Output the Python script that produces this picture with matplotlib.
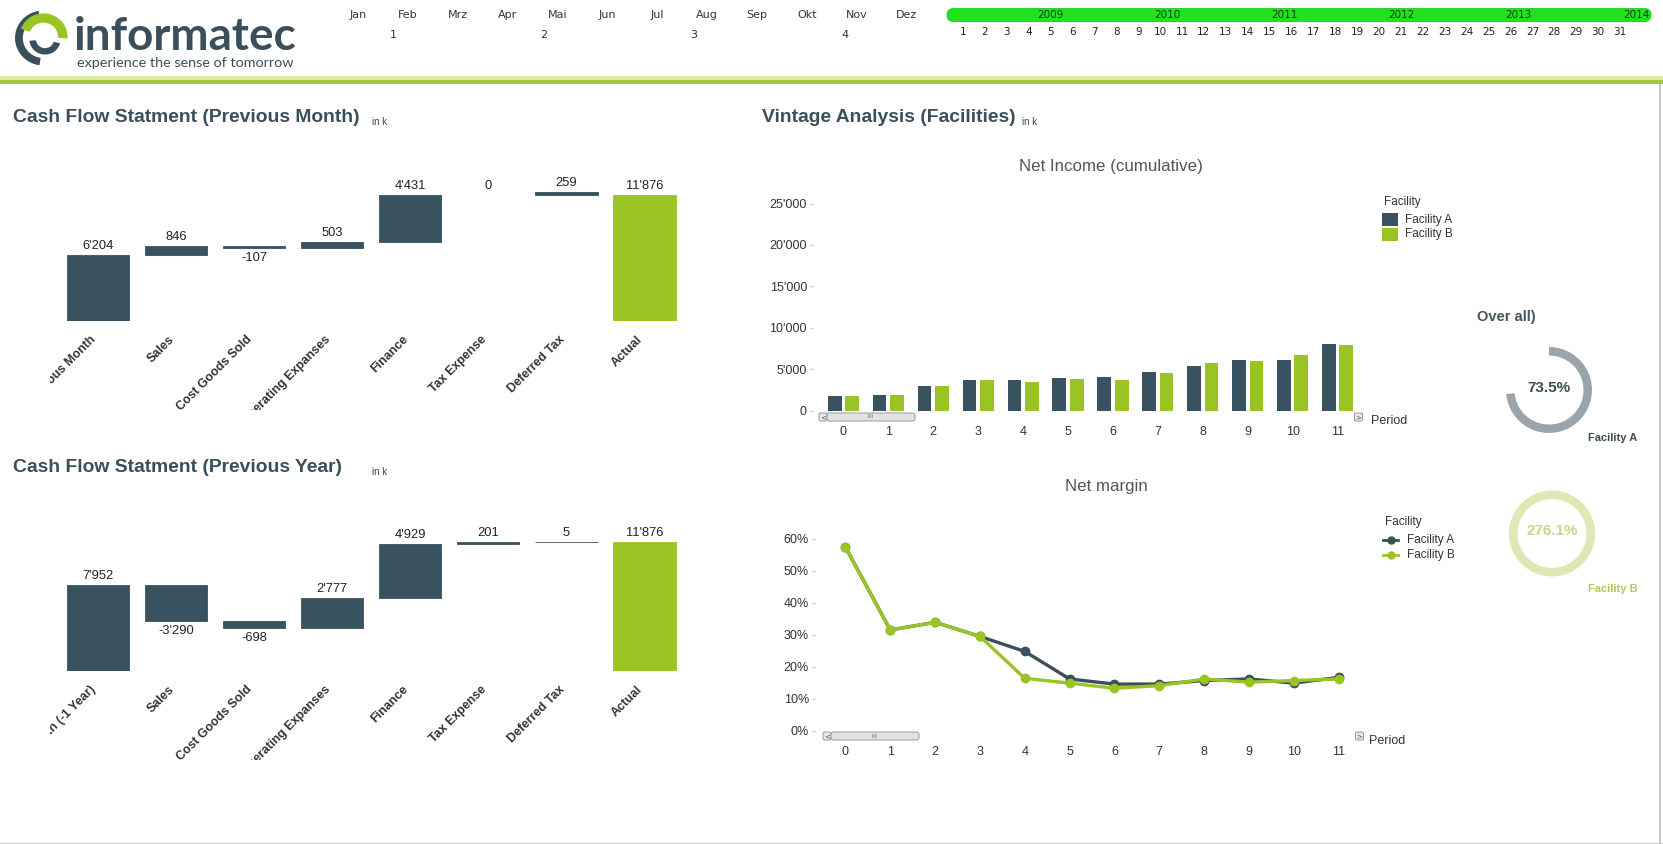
import matplotlib
matplotlib.use('Agg')
import matplotlib.pyplot as plt
import matplotlib.transforms as mtransforms
from matplotlib.patches import Rectangle, Wedge, FancyBboxPatch
from matplotlib.lines import Line2D
import numpy as np

# ---------------- data ----------------
months = ['Jan', 'Feb', 'Mrz', 'Apr', 'Mai', 'Jun', 'Jul', 'Aug', 'Sep', 'Okt', 'Nov', 'Dez']
quarters = ['1', '2', '3', '4']
years = ['2009', '2010', '2011', '2012', '2013', '2014']
days = [str(d) for d in range(1, 32)]

wf_month_categories = ['Previous Month', 'Sales', 'Cost Goods Sold', 'Operating Expanses',
                       'Finance', 'Tax Expense', 'Deferred Tax', 'Actual']
wf_month_values = [6204, 846, -107, 503, 4431, 0, 259, 11876]

wf_year_categories = ['Previous Month (-1 Year)', 'Sales', 'Cost Goods Sold', 'Operating Expanses',
                      'Finance', 'Tax Expense', 'Deferred Tax', 'Actual']
wf_year_values = [7952, -3290, -698, 2777, 4929, 201, 5, 11876]

periods = list(range(12))
facilities = ['Facility A', 'Facility B']
net_income_a = [1700, 1930, 3010, 3730, 3730, 3980, 4100, 4700, 5420, 6140, 6140, 8070]
net_income_b = [1700, 1930, 3010, 3730, 3490, 3860, 3730, 4580, 5780, 6020, 6750, 7950]
net_margin_a = [57.4, 31.5, 33.9, 29.5, 24.8, 16.2, 14.6, 14.6, 15.7, 16.2, 14.9, 16.7]
net_margin_b = [57.4, 31.5, 33.9, 29.5, 16.4, 14.9, 13.3, 14.1, 16.2, 15.2, 15.7, 16.2]
gauge_values = [73.5, 276.1]

# ---------------- style ----------------
W, H = 1663, 844
DARK = '#38535f'
GREEN = '#9ac424'
TITLE = '#3b4f5a'
NARROW = ['Liberation Sans Narrow', 'Liberation Sans', 'DejaVu Sans']
SANS = ['Liberation Sans', 'DejaVu Sans']

fig = plt.figure(figsize=(W / 100, H / 100), dpi=100)
fig.patch.set_facecolor('white')


def ax_px(x0, y0, x1, y1):
    return fig.add_axes([x0 / W, 1 - y1 / H, (x1 - x0) / W, (y1 - y0) / H])


def fmt(v):
    return f"{v:,}".replace(',', "'")


# overlay in pixel coordinates
ov = ax_px(0, 0, W, H)
ov.set_xlim(0, W)
ov.set_ylim(H, 0)
ov.axis('off')

# ---------------- header ----------------
for i, m in enumerate(months):
    ov.text(358 + 49.9 * i, 15, m, ha='center', va='center', fontsize=8,
            family=['DejaVu Sans'], color='#333333')
for i, q in enumerate(quarters):
    ov.text(393 + 150.5 * i, 35, q, ha='center', va='center', fontsize=8,
            family=['DejaVu Sans'], color='#333333')
ov.add_patch(FancyBboxPatch((947, 8.5), 704, 13, boxstyle='round,pad=0,rounding_size=6.5',
                            facecolor='#1fe31f', edgecolor='#15d015', lw=0.6))
for i, y in enumerate(years):
    ov.text(1050 + 117.2 * i, 15.5, y, ha='center', va='center', fontsize=7.5,
            family=['DejaVu Sans'], color='#1a3a1a')
for i, d in enumerate(days):
    ov.text(963 + 21.9 * i, 32, d, ha='center', va='center', fontsize=7.5,
            family=['DejaVu Sans'], color='#222222')

# green separator
ov.add_patch(Rectangle((0, 76), W, 4, facecolor='#dbe9a8', lw=0))
ov.add_patch(Rectangle((0, 80), W, 4, facecolor='#a3c63c', lw=0))
# borders
ov.add_patch(Rectangle((1659, 84), 1.5, H - 84, facecolor='#c8c8c8', lw=0))
ov.add_patch(Rectangle((0, H - 1.5), W, 1.5, facecolor='#c8c8c8', lw=0))

# logo
lg = ax_px(12, 9, 72, 67)
lg.set_xlim(-1, 1)
lg.set_ylim(-1, 1)
lg.axis('off')
lg.add_patch(Wedge((0.05, 0), 0.95, 100, 262, width=0.26, facecolor=TITLE, lw=0))
lg.add_patch(Wedge((0.05, 0.05), 0.8, -5, 160, width=0.32, facecolor=GREEN, lw=0))
lg.add_patch(Wedge((0.1, -0.05), 0.52, 185, 345, width=0.22, facecolor=TITLE, lw=0))
ov.text(74, 50, 'informatec', ha='left', va='baseline', fontsize=33, fontweight='bold',
        family=['Lato', 'DejaVu Sans'], color=TITLE)
ov.text(77, 67, 'experience the sense of tomorrow', ha='left', va='baseline', fontsize=10.4,
        family=['Lato', 'DejaVu Sans'], color=TITLE)

# ---------------- section titles ----------------
for (x, y, s, xk) in [(13, 118, 'Cash Flow Statment (Previous Month)', 372),
                      (13, 468, 'Cash Flow Statment (Previous Year)', 372),
                      (762, 118, 'Vintage Analysis (Facilities)', 1022)]:
    ov.text(x, y, s, ha='left', va='center', fontsize=13.9, fontweight='bold', family=SANS, color=TITLE)
    ov.text(xk, y + 4, 'in k', ha='left', va='center', fontsize=7, family=NARROW, color='#444444')


# ---------------- waterfalls ----------------
def waterfall(box, cats, vals, clip_left, clip_bottom):
    ax = ax_px(*box)
    n = len(cats)
    x = np.arange(n)
    bottoms = []
    cum = 0
    for i, v in enumerate(vals):
        if i == n - 1:
            bottoms.append(0)
        else:
            bottoms.append(cum)
            cum += v
    colors = [DARK] * (n - 1) + [GREEN]
    lws = [0.6 if v != 0 else 0 for v in vals]
    ax.bar(x, vals, bottom=bottoms, width=0.8, color=colors, edgecolor=colors, linewidth=lws)
    for i, (v, b) in enumerate(zip(vals, bottoms)):
        if v >= 0:
            ax.annotate(fmt(v), (i, b + v), xytext=(0, 3), textcoords='offset pixels', ha='center',
                        va='bottom', fontsize=9.3, family=NARROW, color='#222222')
        else:
            ax.annotate(fmt(v), (i, b + v), xytext=(0, -4), textcoords='offset pixels', ha='center',
                        va='top', fontsize=9.3, family=NARROW, color='#222222')
    ax.set_xlim(-0.5, n - 0.5)
    ax.set_ylim(0, 14000)
    ax.axis('off')
    tr = mtransforms.offset_copy(ax.get_xaxis_transform(), fig=fig, x=-8, y=-12, units='dots')
    clip = mtransforms.TransformedBbox(
        mtransforms.Bbox.from_extents(clip_left / W, 1 - clip_bottom / H, 1, 1), fig.transFigure)
    for i, c in enumerate(cats):
        t = fig.text(i, 0, c, transform=tr, rotation=45, rotation_mode='anchor', ha='right', va='top',
                     fontsize=8.9, fontweight='bold', family=SANS, color='#333333')
        t.set_clip_on(True)
        t.set_clip_box(clip)
    return ax


waterfall((58.9, 172.6, 683.4, 321.4), wf_month_categories, wf_month_values, 50, 410)
waterfall((58.9, 518.8, 683.4, 671.4), wf_year_categories, wf_year_values, 50, 760)


# ---------------- right charts ----------------
def style_axis(ax):
    for s in ax.spines.values():
        s.set_visible(False)
    ax.tick_params(axis='y', length=2, width=1, color='#cccccc', pad=2, labelsize=9, labelcolor='#333333')
    ax.tick_params(axis='x', length=0, pad=11, labelsize=9, labelcolor='#333333')
    for lab in ax.get_xticklabels() + ax.get_yticklabels():
        lab.set_family(NARROW)
    ax.set_facecolor('none')


def scrollbar(x_left, y_top, x_right_btn):
    h = 8
    ov.add_patch(FancyBboxPatch((x_left, y_top), 8, h, boxstyle='round,pad=0,rounding_size=1.5',
                                facecolor='#e8e8e8', edgecolor='#9a9a9a', lw=0.7))
    ov.text(x_left + 4, y_top + h / 2, '<', ha='center', va='center', fontsize=5, color='#555555')
    ov.add_patch(FancyBboxPatch((x_left + 8, y_top), 88, h, boxstyle='round,pad=0,rounding_size=2.5',
                                facecolor='#e2e2e2', edgecolor='#9a9a9a', lw=0.7))
    ov.text(x_left + 8 + 44, y_top + h / 2, 'IIII', ha='center', va='center', fontsize=4, color='#777777')
    ov.add_patch(FancyBboxPatch((x_right_btn, y_top), 8, h, boxstyle='round,pad=0,rounding_size=1.5',
                                facecolor='#e8e8e8', edgecolor='#9a9a9a', lw=0.7))
    ov.text(x_right_btn + 4, y_top + h / 2, '>', ha='center', va='center', fontsize=5, color='#555555')


# Net income bars
ax1 = ax_px(812.5, 203.6, 1358.6, 410.5)
xp = np.arange(len(periods))
ax1.bar(xp - 0.19, net_income_a, width=0.31, color=DARK, linewidth=0)
ax1.bar(xp + 0.19, net_income_b, width=0.31, color=GREEN, linewidth=0)
ax1.set_xlim(-0.68, 11.46)
ax1.set_ylim(0, 25000)
ax1.set_yticks(range(0, 25001, 5000))
ax1.set_yticklabels([fmt(v) for v in range(0, 25001, 5000)])
ax1.set_xticks(xp)
ax1.set_xticklabels([str(p) for p in periods])
style_axis(ax1)
ov.text(1111, 166.5, 'Net Income (cumulative)', ha='center', va='center', fontsize=12.2,
        family=SANS, color='#555555')
ov.text(1371, 421, 'Period', ha='left', va='center', fontsize=9, family=SANS, color='#333333')
scrollbar(819, 413, 1354.5)

# bar legend
ov.text(1384, 201.5, 'Facility', ha='left', va='center', fontsize=8.5, family=SANS, color='#333333')
ov.add_patch(Rectangle((1382, 212.5), 16, 13.5, facecolor=DARK, lw=0))
ov.add_patch(Rectangle((1382, 227.5), 16, 13.5, facecolor=GREEN, lw=0))
ov.text(1405, 219.5, facilities[0], ha='left', va='center', fontsize=8.5, family=SANS, color='#333333')
ov.text(1405, 234.4, facilities[1], ha='left', va='center', fontsize=8.5, family=SANS, color='#333333')

# Net margin lines
ax2 = ax_px(814.5, 538.8, 1359.7, 730.8)
ax2.plot(periods, net_margin_a, color='#3a4f59', lw=2.4, marker='o', ms=6, zorder=3)
ax2.plot(periods, net_margin_b, color=GREEN, lw=2.4, marker='o', ms=6, zorder=4)
ax2.set_xlim(-0.69, 11.47)
ax2.set_ylim(0, 60)
ax2.set_yticks(range(0, 61, 10))
ax2.set_yticklabels([f'{v}%' for v in range(0, 61, 10)])
ax2.set_xticks(periods)
ax2.set_xticklabels([str(p) for p in periods])
style_axis(ax2)
ov.text(1106, 487, 'Net margin', ha='center', va='center', fontsize=12.2, family=SANS, color='#555555')
ov.text(1369, 741, 'Period', ha='left', va='center', fontsize=9, family=SANS, color='#333333')
scrollbar(823, 732, 1355.5)

# line legend
ov.text(1385, 522, 'Facility', ha='left', va='center', fontsize=8.5, family=SANS, color='#333333')
for yy, col, lab in [(540, '#3a4f59', facilities[0]), (554.7, GREEN, facilities[1])]:
    ov.add_line(Line2D([1383, 1398], [yy, yy], color=col, lw=2))
    ov.add_line(Line2D([1390.5], [yy], color=col, marker='o', ms=5))
    ov.text(1407, yy, lab, ha='left', va='center', fontsize=8.5, family=SANS, color='#333333')

# ---------------- gauges ----------------
ov.text(1506.6, 317, 'Over all)', ha='center', va='center', fontsize=10.5, fontweight='bold',
        family=SANS, color='#46535b')
gauge_specs = [((1549, 390), '#9aa5ab', '#3d4b53', '#3d4b53', 438),
               ((1552, 533.5), '#dce9b4', '#c5d88b', '#b0c955', 588.6)]
for (c, ring_col, txt_col, lab_col, lab_y), val, lab in zip(gauge_specs, gauge_values, facilities):
    ga = ax_px(c[0] - 50, c[1] - 50, c[0] + 50, c[1] + 50)
    ga.set_xlim(-1, 1)
    ga.set_ylim(-1, 1)
    ga.axis('off')
    frac = min(val, 100) / 100
    ga.add_patch(Wedge((0, 0), 0.86, 90 - 360 * frac, 90, width=0.17, facecolor=ring_col, lw=0))
    ga.text(0, 0.05, f'{val:.1f}%', ha='center', va='center', fontsize=11, fontweight='bold',
            family=SANS, color=txt_col)
    ov.text(1613, lab_y, lab, ha='center', va='center', fontsize=8, fontweight='bold',
            family=SANS, color=lab_col)

fig.savefig('out.png', dpi=100)
